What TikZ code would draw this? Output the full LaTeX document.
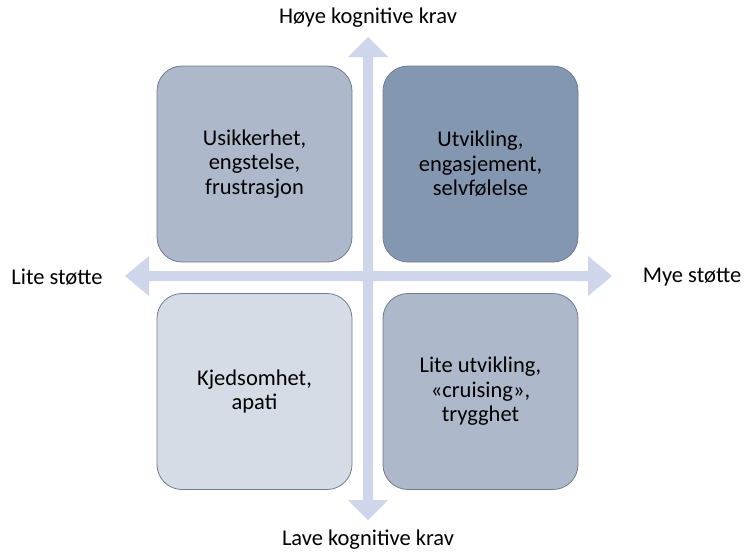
\documentclass[tikz,border=0pt]{standalone}
\usepackage{fontspec}
\setmainfont{Carlito}

\definecolor{pilfarge}{RGB}{207,213,234}
\definecolor{lysgraa}{RGB}{214,220,229}
\definecolor{middelgraa}{RGB}{173,185,202}
\definecolor{moerkgraa}{RGB}{132,151,176}
\definecolor{kantfarge}{RGB}{112,124,144}

\begin{document}
\begin{tikzpicture}[x=1pt,y=-1pt,
	felt/.style={draw=kantfarge, line width=0.8pt, rounded corners=25pt,
		minimum width=195pt, minimum height=196pt, inner sep=0pt,
		align=center, font=\fontsize{22.5}{24.5}\selectfont},
	akse/.style={font=\fontsize{22.5}{26}\selectfont, inner sep=0pt},
	pil/.style={fill=pilfarge}]
\useasboundingbox (0,0) rectangle (744,552);

% vertical arrow
\fill[pil] (368,37) -- (388,57) -- (373,57) -- (373,500) -- (388,500)
	-- (368,520) -- (348,500) -- (363,500) -- (363,57) -- (348,57) -- cycle;
% horizontal arrow
\fill[pil] (125,276) -- (149,256) -- (149,271) -- (588,271) -- (588,256)
	-- (612,276) -- (588,296) -- (588,281) -- (149,281) -- (149,296) -- cycle;

% 4 fields
\node[felt, fill=middelgraa] (usikker) at (254.5,164) {Usikkerhet,\\engstelse,\\frustrasjon};
\node[felt, fill=moerkgraa] (utvikling) at (480.5,164) {Utvikling,\\engasjement,\\selvfølelse};
\node[felt, fill=lysgraa] (kjedsom) at (254.5,391.5) {Kjedsomhet,\\apati};
\node[felt, fill=middelgraa] (trygg) at (480.5,391.5) {Lite utvikling,\\«cruising»,\\trygghet};

% labels
\node[akse] (hoeye) at (368,18) {Høye kognitive krav};
\node[akse] (lave) at (368,540) {Lave kognitive krav};
\node[akse] (lite) at (57,277) {Lite støtte};
\node[akse] (mye) at (692,277) {Mye støtte};

\end{tikzpicture}
\end{document}
